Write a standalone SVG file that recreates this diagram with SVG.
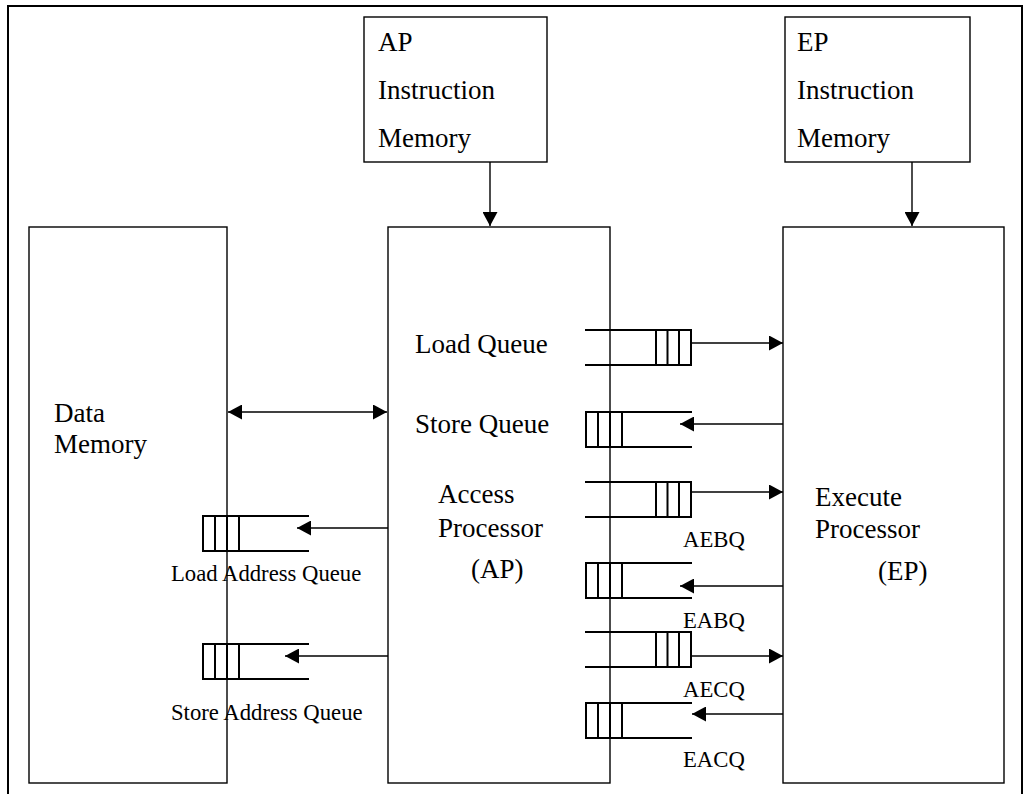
<svg xmlns="http://www.w3.org/2000/svg" xmlns:xlink="http://www.w3.org/1999/xlink" width="1026" height="794" viewBox="0 0 1026 794">
  <style>
    .frame { fill: none; stroke: #000; stroke-width: 2; }
    .box { fill: #fff; stroke: #000; stroke-width: 1.4; }
    .q line { stroke: #000; stroke-width: 2; }
    .wire { fill: none; stroke: #000; stroke-width: 1.4; }
    .t { font-family: "Liberation Serif", "Times New Roman", serif; font-size: 27px; fill: #000; }
    .s { font-family: "Liberation Serif", "Times New Roman", serif; font-size: 22.7px; fill: #000; }
  </style>
  <defs>
    <marker id="head" viewBox="0 0 14 15" refX="14" refY="7.5" markerWidth="14" markerHeight="15" markerUnits="userSpaceOnUse" orient="auto-start-reverse">
      <path d="M0,0 L14,7.5 L0,15 Z" fill="#000"/>
    </marker>
    <!-- queue with its slots at the right end (output side on the right) -->
    <g id="q-out" class="q">
      <line x1="0" y1="0" x2="106" y2="0"/>
      <line x1="0" y1="35" x2="106" y2="35"/>
      <line x1="71" y1="0" x2="71" y2="35"/>
      <line x1="82.5" y1="0" x2="82.5" y2="35"/>
      <line x1="94" y1="0" x2="94" y2="35"/>
      <line x1="106" y1="-1" x2="106" y2="36"/>
    </g>
    <!-- queue with its slots at the left end (output side on the left) -->
    <g id="q-in" class="q">
      <line x1="0" y1="0" x2="106" y2="0"/>
      <line x1="0" y1="35" x2="106" y2="35"/>
      <line x1="0" y1="-1" x2="0" y2="36"/>
      <line x1="12" y1="0" x2="12" y2="35"/>
      <line x1="24" y1="0" x2="24" y2="35"/>
      <line x1="36" y1="0" x2="36" y2="35"/>
    </g>
  </defs>

  <!-- page frame -->
  <path class="frame" d="M8,794 V6 H1022 V794"/>

  <g id="ap-imem">
    <rect class="box" x="364" y="17" width="183" height="145"/>
    <text class="t" x="378" y="51">AP</text>
    <text class="t" x="378" y="99">Instruction</text>
    <text class="t" x="378" y="147">Memory</text>
  </g>

  <g id="ep-imem">
    <rect class="box" x="785" y="17" width="185" height="145"/>
    <text class="t" x="797" y="51">EP</text>
    <text class="t" x="797" y="99">Instruction</text>
    <text class="t" x="797" y="147">Memory</text>
  </g>

  <g id="data-memory">
    <rect class="box" x="29" y="227" width="198" height="556"/>
    <text class="t" x="54" y="422">Data</text>
    <text class="t" x="54" y="453">Memory</text>
  </g>

  <g id="access-processor">
    <rect class="box" x="388" y="227" width="222" height="556"/>
    <text class="t" x="415" y="353">Load Queue</text>
    <text class="t" x="415" y="433">Store Queue</text>
    <text class="t" x="438" y="503">Access</text>
    <text class="t" x="438" y="537">Processor</text>
    <text class="t" x="471" y="578">(AP)</text>
  </g>

  <g id="execute-processor">
    <rect class="box" x="783" y="227" width="221" height="556"/>
    <text class="t" x="815" y="506">Execute</text>
    <text class="t" x="815" y="538">Processor</text>
    <text class="t" x="878" y="580">(EP)</text>
  </g>

  <!-- queues between the units -->
  <g id="load-queue"><use xlink:href="#q-out" x="585" y="330"/></g>
  <g id="store-queue"><use xlink:href="#q-in" x="586" y="412"/></g>
  <g id="aebq">
    <use xlink:href="#q-out" x="585" y="482"/>
    <text class="s" x="683" y="547">AEBQ</text>
  </g>
  <g id="eabq">
    <use xlink:href="#q-in" x="586" y="563"/>
    <text class="s" x="683" y="628">EABQ</text>
  </g>
  <g id="aecq">
    <use xlink:href="#q-out" x="585" y="632"/>
    <text class="s" x="683" y="697">AECQ</text>
  </g>
  <g id="eacq">
    <use xlink:href="#q-in" x="586" y="703"/>
    <text class="s" x="683" y="767">EACQ</text>
  </g>
  <g id="load-address-queue">
    <use xlink:href="#q-in" x="203" y="516"/>
    <text class="s" x="171" y="581">Load Address Queue</text>
  </g>
  <g id="store-address-queue">
    <use xlink:href="#q-in" x="203" y="644"/>
    <text class="s" x="171" y="720">Store Address Queue</text>
  </g>

  <g id="connectors">
    <line class="wire" x1="490" y1="162" x2="490" y2="226" marker-end="url(#head)"/>
    <line class="wire" x1="912" y1="162" x2="912" y2="226" marker-end="url(#head)"/>
    <line class="wire" x1="228" y1="412" x2="387" y2="412" marker-start="url(#head)" marker-end="url(#head)"/>
    <line class="wire" x1="691" y1="343" x2="783" y2="343" marker-end="url(#head)"/>
    <line class="wire" x1="783" y1="424" x2="680" y2="424" marker-end="url(#head)"/>
    <line class="wire" x1="691" y1="492" x2="783" y2="492" marker-end="url(#head)"/>
    <line class="wire" x1="783" y1="586" x2="680" y2="586" marker-end="url(#head)"/>
    <line class="wire" x1="691" y1="656" x2="783" y2="656" marker-end="url(#head)"/>
    <line class="wire" x1="783" y1="714" x2="692" y2="714" marker-end="url(#head)"/>
    <line class="wire" x1="388" y1="528" x2="297" y2="528" marker-end="url(#head)"/>
    <line class="wire" x1="388" y1="656" x2="285" y2="656" marker-end="url(#head)"/>
  </g>
</svg>
